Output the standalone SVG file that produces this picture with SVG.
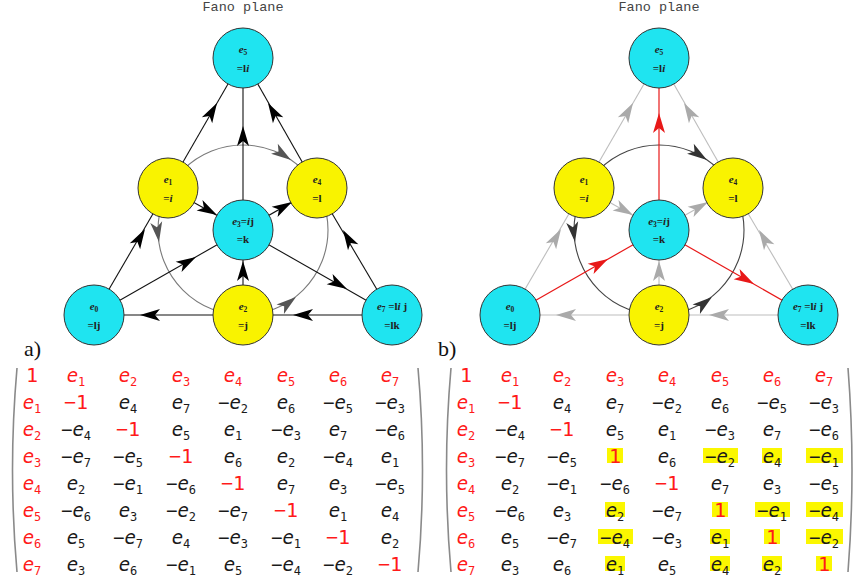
<svg xmlns="http://www.w3.org/2000/svg" xmlns:xlink="http://www.w3.org/1999/xlink" width="853" height="581" viewBox="0 0 853 581">
<style>
.bg{fill:#ffffff}
.title{font-family:"Liberation Mono",monospace;font-size:13.5px;fill:#444;text-anchor:middle}
.cy{fill:#1fe4f0;stroke:#333;stroke-width:1}
.ye{fill:#f9f300;stroke:#333;stroke-width:1}
.nt{font-family:"Liberation Serif",serif;font-size:11px;font-weight:bold;fill:#222;text-anchor:middle}
.it{font-style:italic}
.sb{font-size:7.5px}
.lk{stroke:#111;stroke-width:1.1;fill:none}
.lg{stroke:#bdbdbd;stroke-width:1.1;fill:none}
.lr{stroke:#e81818;stroke-width:1.2;fill:none}
.cg{stroke:#7a7a7a;stroke-width:1.1;fill:none}
.cd{stroke:#444;stroke-width:1.1;fill:none}
.ak{fill:#000}
.ag{fill:#555}
.agl{fill:#aaa}
.ar{fill:#e81818}
.ad{fill:#333}
.lab{font-family:"Liberation Serif",serif;font-size:22px;fill:#111}
.m{font-family:"DejaVu Sans Mono",monospace;font-size:19px;fill:#1a1a1a;text-anchor:middle}
.m .r{fill:#ff1a1a}
.i{font-style:italic}
.s{font-size:12px}
.one{font-size:20px}
.par{stroke:#8a8a8a;stroke-width:1.6;fill:none}
.hl{fill:#fbf700}
</style>
<defs>
<path id="ah" d="M0,0 L-20,-6 L-15,0 L-20,6 Z"/>
</defs>
<rect class="bg" x="0" y="0" width="853" height="581"/>

<!-- ===== Diagram a ===== -->
<text class="title" x="243" y="11">Fano plane</text>
<g id="a-connectors">
<circle class="cg" cx="243" cy="230" r="85"/>
<line class="lk" x1="94" y1="315" x2="168" y2="188"/>
<line class="lk" x1="168" y1="188" x2="243" y2="58"/>
<line class="lk" x1="317" y1="188" x2="243" y2="58"/>
<line class="lk" x1="392" y1="315" x2="317" y2="188"/>
<line class="lk" x1="392" y1="315" x2="243" y2="315"/>
<line class="lk" x1="243" y1="315" x2="94" y2="315"/>
<line class="lk" x1="243" y1="230" x2="243" y2="58"/>
<line class="lk" x1="243" y1="315" x2="243" y2="230"/>
<line class="lk" x1="94" y1="315" x2="243" y2="230"/>
<line class="lk" x1="243" y1="230" x2="317" y2="188"/>
<line class="lk" x1="168" y1="188" x2="243" y2="230"/>
<line class="lk" x1="243" y1="230" x2="392" y2="315"/>
<use xlink:href="#ah" class="ak" transform="translate(145,229) rotate(-59.8)"/>
<use xlink:href="#ah" class="ak" transform="translate(217,103) rotate(-60)"/>
<use xlink:href="#ah" class="ak" transform="translate(268,103) rotate(-120.4)"/>
<use xlink:href="#ah" class="ak" transform="translate(343,230) rotate(-120.6)"/>
<use xlink:href="#ah" class="ak" transform="translate(243,126) rotate(-90)"/>
<use xlink:href="#ah" class="ak" transform="translate(243,261) rotate(-90)"/>
<use xlink:href="#ah" class="ak" transform="translate(293,315) rotate(180)"/>
<use xlink:href="#ah" class="ak" transform="translate(140,315) rotate(180)"/>
<use xlink:href="#ah" class="ak" transform="translate(196,257) rotate(-29.7)"/>
<use xlink:href="#ah" class="ak" transform="translate(347,289) rotate(29.7)"/>
<use xlink:href="#ah" class="ak" transform="translate(217,215) rotate(29.2)"/>
<use xlink:href="#ah" class="ak" transform="translate(292,202) rotate(-29.6)"/>
<use xlink:href="#ah" class="ag" transform="translate(291,160) rotate(34)"/>
<use xlink:href="#ah" class="ag" transform="translate(159,242) rotate(82)"/>
<use xlink:href="#ah" class="ag" transform="translate(296,297) rotate(-38)"/>
</g>
<g id="a-e5"><circle class="cy" cx="243" cy="58" r="30"/><text class="nt" x="243" y="53"><tspan class="it">e</tspan><tspan class="sb" dy="2">5</tspan></text><text class="nt" x="243" y="72">=l<tspan class="it">i</tspan></text></g>
<g id="a-e1"><circle class="ye" cx="168" cy="188" r="30"/><text class="nt" x="168" y="183"><tspan class="it">e</tspan><tspan class="sb" dy="2">1</tspan></text><text class="nt" x="168" y="202">=<tspan class="it">i</tspan></text></g>
<g id="a-e4"><circle class="ye" cx="317" cy="188" r="30"/><text class="nt" x="317" y="183"><tspan class="it">e</tspan><tspan class="sb" dy="2">4</tspan></text><text class="nt" x="317" y="202">=l</text></g>
<g id="a-e3"><circle class="cy" cx="243" cy="230" r="30"/><text class="nt" x="243" y="225"><tspan class="it">e</tspan><tspan class="sb" dy="2">3</tspan><tspan dy="-2">=</tspan><tspan class="it">i</tspan>j</text><text class="nt" x="243" y="243">=k</text></g>
<g id="a-e0"><circle class="cy" cx="94" cy="315" r="30"/><text class="nt" x="94" y="310"><tspan class="it">e</tspan><tspan class="sb" dy="2">0</tspan></text><text class="nt" x="94" y="329">=lj</text></g>
<g id="a-e2"><circle class="ye" cx="243" cy="315" r="30"/><text class="nt" x="243" y="310"><tspan class="it">e</tspan><tspan class="sb" dy="2">2</tspan></text><text class="nt" x="243" y="329">=j</text></g>
<g id="a-e7"><circle class="cy" cx="392" cy="315" r="30"/><text class="nt" x="392" y="310"><tspan class="it">e</tspan><tspan class="sb" dy="2">7</tspan><tspan dy="-2"> =l</tspan><tspan class="it">i</tspan> j</text><text class="nt" x="392" y="329">=lk</text></g>

<!-- ===== Diagram b ===== -->
<text class="title" x="659" y="11">Fano plane</text>
<g id="b-connectors">
<circle class="cd" cx="659" cy="230" r="85"/>
<line class="lg" x1="510" y1="315" x2="584" y2="188"/>
<line class="lg" x1="584" y1="188" x2="659" y2="58"/>
<line class="lg" x1="733" y1="188" x2="659" y2="58"/>
<line class="lg" x1="808" y1="315" x2="733" y2="188"/>
<line class="lg" x1="808" y1="315" x2="659" y2="315"/>
<line class="lg" x1="659" y1="315" x2="510" y2="315"/>
<line class="lg" x1="659" y1="315" x2="659" y2="230"/>
<line class="lg" x1="659" y1="230" x2="733" y2="188"/>
<line class="lg" x1="584" y1="188" x2="659" y2="230"/>
<line class="lr" x1="659" y1="230" x2="659" y2="58"/>
<line class="lr" x1="510" y1="315" x2="659" y2="230"/>
<line class="lr" x1="659" y1="230" x2="808" y2="315"/>
<use xlink:href="#ah" class="agl" transform="translate(561,229) rotate(-59.8)"/>
<use xlink:href="#ah" class="agl" transform="translate(633,103) rotate(-60)"/>
<use xlink:href="#ah" class="agl" transform="translate(684,103) rotate(-120.4)"/>
<use xlink:href="#ah" class="agl" transform="translate(759,230) rotate(-120.6)"/>
<use xlink:href="#ah" class="agl" transform="translate(659,261) rotate(-90)"/>
<use xlink:href="#ah" class="agl" transform="translate(709,315) rotate(180)"/>
<use xlink:href="#ah" class="agl" transform="translate(556,315) rotate(180)"/>
<use xlink:href="#ah" class="agl" transform="translate(633,215) rotate(29.2)"/>
<use xlink:href="#ah" class="agl" transform="translate(708,202) rotate(-29.6)"/>
<use xlink:href="#ah" class="ar" transform="translate(659,113) rotate(-90)"/>
<use xlink:href="#ah" class="ar" transform="translate(608,259) rotate(-29.7)"/>
<use xlink:href="#ah" class="ar" transform="translate(754,284) rotate(29.7)"/>
<use xlink:href="#ah" class="ad" transform="translate(707,160) rotate(34)"/>
<use xlink:href="#ah" class="ad" transform="translate(575,242) rotate(82)"/>
<use xlink:href="#ah" class="ad" transform="translate(712,297) rotate(-38)"/>
</g>
<g id="b-e5"><circle class="cy" cx="659" cy="58" r="30"/><text class="nt" x="659" y="53"><tspan class="it">e</tspan><tspan class="sb" dy="2">5</tspan></text><text class="nt" x="659" y="72">=l<tspan class="it">i</tspan></text></g>
<g id="b-e1"><circle class="ye" cx="584" cy="188" r="30"/><text class="nt" x="584" y="183"><tspan class="it">e</tspan><tspan class="sb" dy="2">1</tspan></text><text class="nt" x="584" y="202">=<tspan class="it">i</tspan></text></g>
<g id="b-e4"><circle class="ye" cx="733" cy="188" r="30"/><text class="nt" x="733" y="183"><tspan class="it">e</tspan><tspan class="sb" dy="2">4</tspan></text><text class="nt" x="733" y="202">=l</text></g>
<g id="b-e3"><circle class="cy" cx="659" cy="230" r="30"/><text class="nt" x="659" y="225"><tspan class="it">e</tspan><tspan class="sb" dy="2">3</tspan><tspan dy="-2">=</tspan><tspan class="it">i</tspan>j</text><text class="nt" x="659" y="243">=k</text></g>
<g id="b-e0"><circle class="cy" cx="510" cy="315" r="30"/><text class="nt" x="510" y="310"><tspan class="it">e</tspan><tspan class="sb" dy="2">0</tspan></text><text class="nt" x="510" y="329">=lj</text></g>
<g id="b-e2"><circle class="ye" cx="659" cy="315" r="30"/><text class="nt" x="659" y="310"><tspan class="it">e</tspan><tspan class="sb" dy="2">2</tspan></text><text class="nt" x="659" y="329">=j</text></g>
<g id="b-e7"><circle class="cy" cx="808" cy="315" r="30"/><text class="nt" x="808" y="310"><tspan class="it">e</tspan><tspan class="sb" dy="2">7</tspan><tspan dy="-2"> =l</tspan><tspan class="it">i</tspan> j</text><text class="nt" x="808" y="329">=lk</text></g>

<!-- labels -->
<text class="lab" x="24" y="356">a)</text>
<text class="lab" x="438" y="356">b)</text>

<!-- ===== Matrix a ===== -->
<g id="matrix-a" class="m">
<path class="par" d="M17,368 Q8,470 17,572"/>
<path class="par" d="M418,368 Q427,470 418,572"/>
<text class="r one" x="32" y="382">1</text>
<text class="r" x="76" y="382"><tspan class="i">e</tspan><tspan class="s" dy="4">1</tspan></text>
<text class="r" x="128" y="382"><tspan class="i">e</tspan><tspan class="s" dy="4">2</tspan></text>
<text class="r" x="181" y="382"><tspan class="i">e</tspan><tspan class="s" dy="4">3</tspan></text>
<text class="r" x="233" y="382"><tspan class="i">e</tspan><tspan class="s" dy="4">4</tspan></text>
<text class="r" x="286" y="382"><tspan class="i">e</tspan><tspan class="s" dy="4">5</tspan></text>
<text class="r" x="338" y="382"><tspan class="i">e</tspan><tspan class="s" dy="4">6</tspan></text>
<text class="r" x="390" y="382"><tspan class="i">e</tspan><tspan class="s" dy="4">7</tspan></text>

<text class="r" x="32" y="409"><tspan class="i">e</tspan><tspan class="s" dy="4">1</tspan></text>
<text class="r one" x="76" y="409">−1</text>
<text x="128" y="409"><tspan class="i">e</tspan><tspan class="s" dy="4">4</tspan></text>
<text x="181" y="409"><tspan class="i">e</tspan><tspan class="s" dy="4">7</tspan></text>
<text x="233" y="409">−<tspan class="i">e</tspan><tspan class="s" dy="4">2</tspan></text>
<text x="286" y="409"><tspan class="i">e</tspan><tspan class="s" dy="4">6</tspan></text>
<text x="338" y="409">−<tspan class="i">e</tspan><tspan class="s" dy="4">5</tspan></text>
<text x="390" y="409">−<tspan class="i">e</tspan><tspan class="s" dy="4">3</tspan></text>

<text class="r" x="32" y="436"><tspan class="i">e</tspan><tspan class="s" dy="4">2</tspan></text>
<text x="76" y="436">−<tspan class="i">e</tspan><tspan class="s" dy="4">4</tspan></text>
<text class="r one" x="128" y="436">−1</text>
<text x="181" y="436"><tspan class="i">e</tspan><tspan class="s" dy="4">5</tspan></text>
<text x="233" y="436"><tspan class="i">e</tspan><tspan class="s" dy="4">1</tspan></text>
<text x="286" y="436">−<tspan class="i">e</tspan><tspan class="s" dy="4">3</tspan></text>
<text x="338" y="436"><tspan class="i">e</tspan><tspan class="s" dy="4">7</tspan></text>
<text x="390" y="436">−<tspan class="i">e</tspan><tspan class="s" dy="4">6</tspan></text>

<text class="r" x="32" y="463"><tspan class="i">e</tspan><tspan class="s" dy="4">3</tspan></text>
<text x="76" y="463">−<tspan class="i">e</tspan><tspan class="s" dy="4">7</tspan></text>
<text x="128" y="463">−<tspan class="i">e</tspan><tspan class="s" dy="4">5</tspan></text>
<text class="r one" x="181" y="463">−1</text>
<text x="233" y="463"><tspan class="i">e</tspan><tspan class="s" dy="4">6</tspan></text>
<text x="286" y="463"><tspan class="i">e</tspan><tspan class="s" dy="4">2</tspan></text>
<text x="338" y="463">−<tspan class="i">e</tspan><tspan class="s" dy="4">4</tspan></text>
<text x="390" y="463"><tspan class="i">e</tspan><tspan class="s" dy="4">1</tspan></text>

<text class="r" x="32" y="490"><tspan class="i">e</tspan><tspan class="s" dy="4">4</tspan></text>
<text x="76" y="490"><tspan class="i">e</tspan><tspan class="s" dy="4">2</tspan></text>
<text x="128" y="490">−<tspan class="i">e</tspan><tspan class="s" dy="4">1</tspan></text>
<text x="181" y="490">−<tspan class="i">e</tspan><tspan class="s" dy="4">6</tspan></text>
<text class="r one" x="233" y="490">−1</text>
<text x="286" y="490"><tspan class="i">e</tspan><tspan class="s" dy="4">7</tspan></text>
<text x="338" y="490"><tspan class="i">e</tspan><tspan class="s" dy="4">3</tspan></text>
<text x="390" y="490">−<tspan class="i">e</tspan><tspan class="s" dy="4">5</tspan></text>

<text class="r" x="32" y="517"><tspan class="i">e</tspan><tspan class="s" dy="4">5</tspan></text>
<text x="76" y="517">−<tspan class="i">e</tspan><tspan class="s" dy="4">6</tspan></text>
<text x="128" y="517"><tspan class="i">e</tspan><tspan class="s" dy="4">3</tspan></text>
<text x="181" y="517">−<tspan class="i">e</tspan><tspan class="s" dy="4">2</tspan></text>
<text x="233" y="517">−<tspan class="i">e</tspan><tspan class="s" dy="4">7</tspan></text>
<text class="r one" x="286" y="517">−1</text>
<text x="338" y="517"><tspan class="i">e</tspan><tspan class="s" dy="4">1</tspan></text>
<text x="390" y="517"><tspan class="i">e</tspan><tspan class="s" dy="4">4</tspan></text>

<text class="r" x="32" y="544"><tspan class="i">e</tspan><tspan class="s" dy="4">6</tspan></text>
<text x="76" y="544"><tspan class="i">e</tspan><tspan class="s" dy="4">5</tspan></text>
<text x="128" y="544">−<tspan class="i">e</tspan><tspan class="s" dy="4">7</tspan></text>
<text x="181" y="544"><tspan class="i">e</tspan><tspan class="s" dy="4">4</tspan></text>
<text x="233" y="544">−<tspan class="i">e</tspan><tspan class="s" dy="4">3</tspan></text>
<text x="286" y="544">−<tspan class="i">e</tspan><tspan class="s" dy="4">1</tspan></text>
<text class="r one" x="338" y="544">−1</text>
<text x="390" y="544"><tspan class="i">e</tspan><tspan class="s" dy="4">2</tspan></text>

<text class="r" x="32" y="571"><tspan class="i">e</tspan><tspan class="s" dy="4">7</tspan></text>
<text x="76" y="571"><tspan class="i">e</tspan><tspan class="s" dy="4">3</tspan></text>
<text x="128" y="571"><tspan class="i">e</tspan><tspan class="s" dy="4">6</tspan></text>
<text x="181" y="571">−<tspan class="i">e</tspan><tspan class="s" dy="4">1</tspan></text>
<text x="233" y="571"><tspan class="i">e</tspan><tspan class="s" dy="4">5</tspan></text>
<text x="286" y="571">−<tspan class="i">e</tspan><tspan class="s" dy="4">4</tspan></text>
<text x="338" y="571">−<tspan class="i">e</tspan><tspan class="s" dy="4">2</tspan></text>
<text class="r one" x="390" y="571">−1</text>
</g>

<!-- ===== Matrix b ===== -->
<g id="matrix-b" class="m">
<path class="par" d="M451,368 Q442,470 451,572"/>
<path class="par" d="M848,368 Q856,470 848,572"/>
<!-- highlights -->
<rect class="hl" x="607" y="448" width="16" height="15"/>
<rect class="hl" x="703" y="448" width="35" height="15"/>
<rect class="hl" x="762" y="448" width="20" height="15"/>
<rect class="hl" x="806" y="448" width="37" height="15"/>
<rect class="hl" x="605" y="502" width="20" height="15"/>
<rect class="hl" x="712" y="502" width="16" height="15"/>
<rect class="hl" x="755" y="502" width="35" height="15"/>
<rect class="hl" x="806" y="502" width="37" height="15"/>
<rect class="hl" x="598" y="529" width="35" height="15"/>
<rect class="hl" x="710" y="529" width="20" height="15"/>
<rect class="hl" x="764" y="529" width="16" height="15"/>
<rect class="hl" x="806" y="529" width="37" height="15"/>
<rect class="hl" x="605" y="556" width="20" height="15"/>
<rect class="hl" x="710" y="556" width="20" height="15"/>
<rect class="hl" x="762" y="556" width="20" height="15"/>
<rect class="hl" x="816" y="556" width="16" height="15"/>

<text class="r one" x="466" y="382">1</text>
<text class="r" x="510" y="382"><tspan class="i">e</tspan><tspan class="s" dy="4">1</tspan></text>
<text class="r" x="562" y="382"><tspan class="i">e</tspan><tspan class="s" dy="4">2</tspan></text>
<text class="r" x="615" y="382"><tspan class="i">e</tspan><tspan class="s" dy="4">3</tspan></text>
<text class="r" x="667" y="382"><tspan class="i">e</tspan><tspan class="s" dy="4">4</tspan></text>
<text class="r" x="720" y="382"><tspan class="i">e</tspan><tspan class="s" dy="4">5</tspan></text>
<text class="r" x="772" y="382"><tspan class="i">e</tspan><tspan class="s" dy="4">6</tspan></text>
<text class="r" x="824" y="382"><tspan class="i">e</tspan><tspan class="s" dy="4">7</tspan></text>

<text class="r" x="466" y="409"><tspan class="i">e</tspan><tspan class="s" dy="4">1</tspan></text>
<text class="r one" x="510" y="409">−1</text>
<text x="562" y="409"><tspan class="i">e</tspan><tspan class="s" dy="4">4</tspan></text>
<text x="615" y="409"><tspan class="i">e</tspan><tspan class="s" dy="4">7</tspan></text>
<text x="667" y="409">−<tspan class="i">e</tspan><tspan class="s" dy="4">2</tspan></text>
<text x="720" y="409"><tspan class="i">e</tspan><tspan class="s" dy="4">6</tspan></text>
<text x="772" y="409">−<tspan class="i">e</tspan><tspan class="s" dy="4">5</tspan></text>
<text x="824" y="409">−<tspan class="i">e</tspan><tspan class="s" dy="4">3</tspan></text>

<text class="r" x="466" y="436"><tspan class="i">e</tspan><tspan class="s" dy="4">2</tspan></text>
<text x="510" y="436">−<tspan class="i">e</tspan><tspan class="s" dy="4">4</tspan></text>
<text class="r one" x="562" y="436">−1</text>
<text x="615" y="436"><tspan class="i">e</tspan><tspan class="s" dy="4">5</tspan></text>
<text x="667" y="436"><tspan class="i">e</tspan><tspan class="s" dy="4">1</tspan></text>
<text x="720" y="436">−<tspan class="i">e</tspan><tspan class="s" dy="4">3</tspan></text>
<text x="772" y="436"><tspan class="i">e</tspan><tspan class="s" dy="4">7</tspan></text>
<text x="824" y="436">−<tspan class="i">e</tspan><tspan class="s" dy="4">6</tspan></text>

<text class="r" x="466" y="463"><tspan class="i">e</tspan><tspan class="s" dy="4">3</tspan></text>
<text x="510" y="463">−<tspan class="i">e</tspan><tspan class="s" dy="4">7</tspan></text>
<text x="562" y="463">−<tspan class="i">e</tspan><tspan class="s" dy="4">5</tspan></text>
<text class="r one" x="615" y="463">1</text>
<text x="667" y="463"><tspan class="i">e</tspan><tspan class="s" dy="4">6</tspan></text>
<text x="720" y="463">−<tspan class="i">e</tspan><tspan class="s" dy="4">2</tspan></text>
<text x="772" y="463"><tspan class="i">e</tspan><tspan class="s" dy="4">4</tspan></text>
<text x="824" y="463">−<tspan class="i">e</tspan><tspan class="s" dy="4">1</tspan></text>

<text class="r" x="466" y="490"><tspan class="i">e</tspan><tspan class="s" dy="4">4</tspan></text>
<text x="510" y="490"><tspan class="i">e</tspan><tspan class="s" dy="4">2</tspan></text>
<text x="562" y="490">−<tspan class="i">e</tspan><tspan class="s" dy="4">1</tspan></text>
<text x="615" y="490">−<tspan class="i">e</tspan><tspan class="s" dy="4">6</tspan></text>
<text class="r one" x="667" y="490">−1</text>
<text x="720" y="490"><tspan class="i">e</tspan><tspan class="s" dy="4">7</tspan></text>
<text x="772" y="490"><tspan class="i">e</tspan><tspan class="s" dy="4">3</tspan></text>
<text x="824" y="490">−<tspan class="i">e</tspan><tspan class="s" dy="4">5</tspan></text>

<text class="r" x="466" y="517"><tspan class="i">e</tspan><tspan class="s" dy="4">5</tspan></text>
<text x="510" y="517">−<tspan class="i">e</tspan><tspan class="s" dy="4">6</tspan></text>
<text x="562" y="517"><tspan class="i">e</tspan><tspan class="s" dy="4">3</tspan></text>
<text x="615" y="517"><tspan class="i">e</tspan><tspan class="s" dy="4">2</tspan></text>
<text x="667" y="517">−<tspan class="i">e</tspan><tspan class="s" dy="4">7</tspan></text>
<text class="r one" x="720" y="517">1</text>
<text x="772" y="517">−<tspan class="i">e</tspan><tspan class="s" dy="4">1</tspan></text>
<text x="824" y="517">−<tspan class="i">e</tspan><tspan class="s" dy="4">4</tspan></text>

<text class="r" x="466" y="544"><tspan class="i">e</tspan><tspan class="s" dy="4">6</tspan></text>
<text x="510" y="544"><tspan class="i">e</tspan><tspan class="s" dy="4">5</tspan></text>
<text x="562" y="544">−<tspan class="i">e</tspan><tspan class="s" dy="4">7</tspan></text>
<text x="615" y="544">−<tspan class="i">e</tspan><tspan class="s" dy="4">4</tspan></text>
<text x="667" y="544">−<tspan class="i">e</tspan><tspan class="s" dy="4">3</tspan></text>
<text x="720" y="544"><tspan class="i">e</tspan><tspan class="s" dy="4">1</tspan></text>
<text class="r one" x="772" y="544">1</text>
<text x="824" y="544">−<tspan class="i">e</tspan><tspan class="s" dy="4">2</tspan></text>

<text class="r" x="466" y="571"><tspan class="i">e</tspan><tspan class="s" dy="4">7</tspan></text>
<text x="510" y="571"><tspan class="i">e</tspan><tspan class="s" dy="4">3</tspan></text>
<text x="562" y="571"><tspan class="i">e</tspan><tspan class="s" dy="4">6</tspan></text>
<text x="615" y="571"><tspan class="i">e</tspan><tspan class="s" dy="4">1</tspan></text>
<text x="667" y="571"><tspan class="i">e</tspan><tspan class="s" dy="4">5</tspan></text>
<text x="720" y="571"><tspan class="i">e</tspan><tspan class="s" dy="4">4</tspan></text>
<text x="772" y="571"><tspan class="i">e</tspan><tspan class="s" dy="4">2</tspan></text>
<text class="r one" x="824" y="571">1</text>
</g>
</svg>
